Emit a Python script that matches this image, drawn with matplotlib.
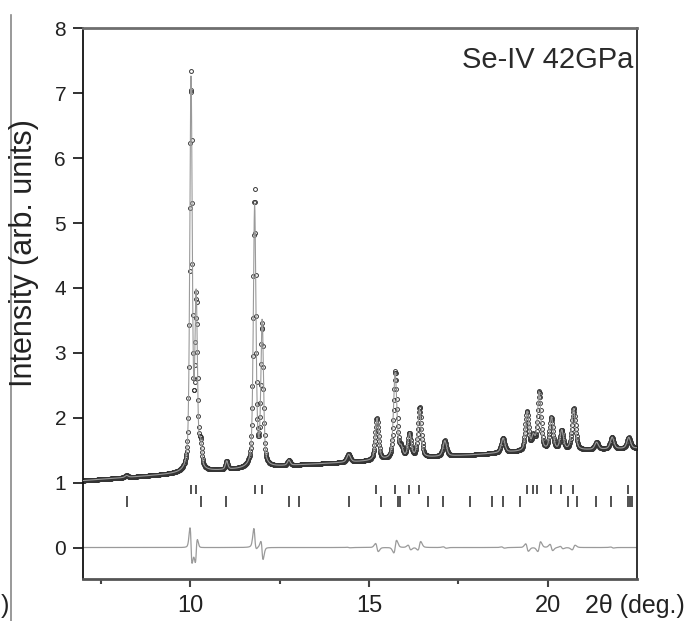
import numpy as np
import matplotlib
matplotlib.use("Agg")
import matplotlib.pyplot as plt
from matplotlib.lines import Line2D

plt.rcParams['font.family'] = ['Liberation Sans', 'DejaVu Sans']

# ---------------- data ----------------
# background anchor points (2theta, intensity)
bg_two_theta = [7.0, 8.0, 9.0, 10.0, 11.0, 12.0, 13.0, 14.0, 15.0, 16.0,
                17.0, 18.0, 19.0, 20.0, 21.0, 22.0, 22.5]
bg_intensity = [1.03, 1.07, 1.11, 1.15, 1.19, 1.23, 1.27, 1.30, 1.33, 1.36,
                1.40, 1.43, 1.47, 1.49, 1.50, 1.52, 1.53]

# Bragg peaks: position, observed height, calculated height, FWHM, calc offset
peak_pos = [8.22, 10.02, 10.17, 10.29, 11.02, 11.80, 12.01, 12.76, 14.43,
            15.22, 15.74, 15.90, 16.13, 16.42, 17.12, 18.75, 19.42, 19.60,
            19.77, 20.10, 20.39, 20.73, 21.37, 21.80, 22.27]
peak_obs = [0.03, 6.10, 2.55, 0.35, 0.13, 4.25, 2.15, 0.08, 0.12,
            0.65, 1.35, 0.15, 0.37, 0.78, 0.24, 0.22, 0.60, 0.20,
            0.90, 0.50, 0.30, 0.64, 0.11, 0.18, 0.17]
peak_calc = [0.03, 6.04, 2.62, 0.35, 0.13, 4.04, 2.22, 0.08, 0.12,
             0.65, 1.33, 0.15, 0.37, 0.74, 0.24, 0.22, 0.60, 0.20,
             0.88, 0.50, 0.30, 0.64, 0.11, 0.18, 0.17]
peak_fwhm = [0.10, 0.08, 0.08, 0.08, 0.08, 0.085, 0.085, 0.09, 0.12,
             0.11, 0.11, 0.11, 0.11, 0.11, 0.12, 0.12, 0.11, 0.11,
             0.11, 0.11, 0.11, 0.12, 0.12, 0.12, 0.12]
calc_shift = [0.0, 0.0027, -0.004, 0.0, 0.0, 0.002, 0.004, 0.0, 0.003,
              0.008, -0.006, 0.0, 0.008, -0.007, 0.004, 0.004, 0.008, 0.0,
              -0.007, 0.008, 0.005, -0.005, 0.0, 0.004, 0.0]

# reflection tick positions (two phases)
refl_row1 = [10.02, 10.16, 11.80, 12.02, 15.21, 15.73, 16.12, 16.41, 19.41,
             19.58, 19.70, 20.08, 20.38, 20.70, 22.24]
refl_row2 = [8.23, 10.31, 11.00, 12.77, 13.05, 14.45, 15.35, 15.80, 15.87,
             16.66, 17.08, 17.84, 18.43, 18.75, 19.22, 20.57, 20.83, 21.36,
             21.78, 22.24, 22.31, 22.37]

x_major = [10, 15, 20]
x_minor = [7.5, 12.5, 17.5]
y_major = [0, 1, 2, 3, 4, 5, 6, 7, 8]

# ---------------- profile model ----------------
tt = np.arange(7.0, 22.5001, 0.01)


def pseudo_voigt(x, pos, h, w, eta=0.5):
    hw = w / 2.0
    d = (x - pos) / hw
    lor = 1.0 / (1.0 + d ** 2)
    gau = np.exp(-np.log(2) * d ** 2)
    return h * (eta * lor + (1 - eta) * gau)


bg = np.interp(tt, bg_two_theta, bg_intensity)
obs = bg.copy()
calc = bg.copy()
for p, ho, hc, w, s in zip(peak_pos, peak_obs, peak_calc, peak_fwhm, calc_shift):
    obs += pseudo_voigt(tt, p, ho, w)
    calc += pseudo_voigt(tt, p + s, hc, w)
diff = obs - calc

# ---------------- figure ----------------
W, H = 693, 621
fig = plt.figure(figsize=(W / 100, H / 100), dpi=100)
ax = fig.add_axes([83 / W, 1 - 579 / H, (637 - 83) / W, (579 - 28.3) / H])

ax.plot(tt, obs, linestyle='none', marker='o', markersize=2.8,
        markerfacecolor='none', markeredgecolor='#353535', markeredgewidth=0.7,
        zorder=2)
ax.plot(tt, calc, color='#9a9a9a', lw=0.8, zorder=3)
ax.plot(tt, diff, color='#9a9a9a', lw=0.9, zorder=2)
ax.vlines(refl_row1, 0.83, 0.97, color='#333333', lw=1.2)
ax.vlines(refl_row2, 0.63, 0.79, color='#333333', lw=1.2)

ax.set_xlim(7.0, 22.5)
ax.set_ylim(-0.485, 8.0)
ax.set_xticks(x_major)
ax.set_xticks(x_minor, minor=True)
ax.set_yticks(y_major)

ax.tick_params(axis='y', which='major', direction='out', length=7.2, width=1.3,
               pad=5, labelsize=15, labelcolor='#222222', color='#222222')
ax.tick_params(axis='x', which='major', direction='out', length=5.5, width=1.5,
               pad=6, labelsize=17, labelcolor='#222222', color='#444444')
ax.tick_params(axis='x', which='minor', direction='out', length=3.5, width=1.5,
               color='#444444')

ax.spines['left'].set_color('#111111')
ax.spines['left'].set_linewidth(1.3)
ax.spines['right'].set_color('#222222')
ax.spines['right'].set_linewidth(1.3)
ax.spines['top'].set_color('#6e6e6e')
ax.spines['top'].set_linewidth(2.0)
ax.spines['bottom'].set_color('#555555')
ax.spines['bottom'].set_linewidth(2.0)

fig.text(24 / W, 1 - 253 / H, 'Intensity (arb. units)', rotation=90,
         ha='center', va='center', fontsize=22, color='#222222')
fig.text(585 / W, 1 - 606 / H, '2θ (deg.)', ha='left', va='center',
         fontsize=18, color='#222222')
fig.text(633 / W, 1 - 68 / H, 'Se-IV 42GPa', ha='right', va='baseline',
         fontsize=21, color='#2a2a2a')
fig.text(9 / W, 1 - 606 / H, ')', ha='right', va='center', fontsize=18,
         color='#222222')
fig.add_artist(Line2D([10.5 / W, 10.5 / W], [0, 1 - 15 / H],
                      color='#888888', lw=1.2))

fig.savefig('out.png', dpi=100)
